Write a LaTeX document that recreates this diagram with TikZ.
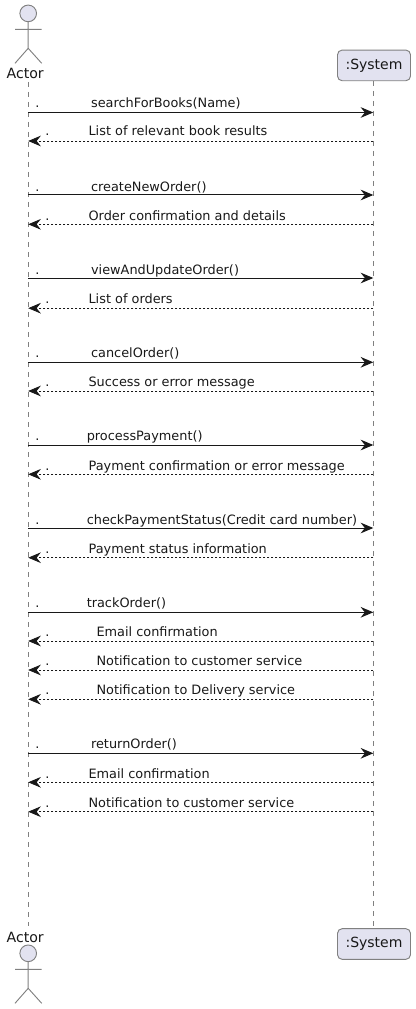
\documentclass[tikz,border=0pt]{standalone}
\usepackage{fontspec}
\setmainfont{DejaVu Sans}
\usetikzlibrary{arrows.meta}
\definecolor{ink}{HTML}{181818}
\definecolor{partfill}{HTML}{E2E2F0}
\definecolor{lifegray}{HTML}{808080}
\tikzset{
  x=0.75pt,y=-0.75pt,
  lifeline/.style={draw=lifegray,line width=0.6pt,dash pattern=on 3.75pt off 3.75pt},
  actorline/.style={draw=lifegray,line width=0.7pt},
  actorhead/.style={circle,draw=lifegray,fill=partfill,line width=0.7pt,minimum size=12.5pt,inner sep=0pt},
  partbox/.style={draw=lifegray,fill=partfill,rounded corners=3.5pt,line width=0.7pt,minimum width=54.75pt,minimum height=23pt,inner sep=0pt,font=\fontsize{10.5pt}{12pt}\selectfont,text=ink},
  actorlabel/.style={anchor=base,inner sep=0pt,font=\fontsize{10.6pt}{12pt}\selectfont,text=ink},
  msglabel/.style={anchor=base west,inner sep=0pt,font=\fontsize{9.65pt}{12pt}\selectfont,text=ink},
  callmsg/.style={draw=ink,line width=0.75pt,-{Stealth[length=9.5pt,width=8pt,inset=3.2pt]}},
  retmsg/.style={draw=ink,line width=0.6pt,dash pattern=on 1.5pt off 1.5pt,-{Stealth[length=9.5pt,width=8pt,inset=3.2pt]}},
}
\begin{document}
\begin{tikzpicture}
\useasboundingbox (0,0) rectangle (415,1009);
% participants
\node[actorhead] (headT) at (28.2,13.4) {};
\node[actorlabel] (actorT) at (25.2,78.4) {Actor};
\node[partbox] (sysT) at (374,65.4) {:System};
\node[actorlabel] (actorB) at (25.2,942.4) {Actor};
\node[actorhead] (headB) at (28.2,953.3) {};
\node[partbox] (sysB) at (374,944) {:System};
% actor figures
\coordinate (hipT) at (28.2,48.3);
\coordinate (hipB) at (28.2,988.3);
\draw[actorline] (headT.south) -- (hipT) -- (15,63.3) (hipT) -- (41.7,63.3) (15,29.3) -- (41.7,29.3);
\draw[actorline] (headB.south) -- (hipB) -- (15,1003.3) (hipB) -- (41.7,1003.3) (15,969.3) -- (41.7,969.3);
% lifelines
\coordinate (lifeAT) at (28.2,82);
\coordinate (lifeAB) at (28.2,926);
\coordinate (lifeST) at (373.3,81);
\coordinate (lifeSB) at (373.3,928);
\draw[lifeline] (lifeAT) -- (lifeAB);
\draw[lifeline] (lifeST) -- (lifeSB);
% calls: id / arrow y / baseline y / label x / text
\foreach \n/\y/\b/\lx/\txt in {
  c1/112.5/107.4/90.8/{searchForBooks(Name)},
  c2/195/191.4/90.8/{createNewOrder()},
  c3/278/274/90.8/{viewAndUpdateOrder()},
  c4/362.3/357.4/90.8/{cancelOrder()},
  c5/445/440.7/86.5/{processPayment()},
  c6/528/524/86.5/{checkPaymentStatus(Credit card number)},
  c7/612.3/607.4/86.5/{trackOrder()},
  c8/753.3/748.4/90.8/{returnOrder()}}{
  \coordinate (a\n) at (28.2,\y);
  \coordinate (s\n) at (373.3,\y);
  \draw[callmsg] (a\n) -- (s\n);
  \node[msglabel] (dot\n) at (35,\b) {.};
  \node[msglabel] (lab\n) at (\lx,\b) {\txt};
}
% returns
\foreach \n/\y/\b/\lx/\txt in {
  r1/141/136/88.3/{List of relevant book results},
  r2/224.3/220/88.3/{Order confirmation and details},
  r3/308.2/303.4/88.3/{List of orders},
  r4/391/386/88.3/{Success or error message},
  r5/474.3/470/88.3/{Payment confirmation or error message},
  r6/557.7/553.4/88.3/{Payment status information},
  r7/641/636/96.3/{Email confirmation},
  r8/670/665.4/96.3/{Notification to customer service},
  r9/699.3/694.7/96.3/{Notification to Delivery service},
  r10/782.3/778/88.3/{Email confirmation},
  r11/811.7/807.4/88.3/{Notification to customer service}}{
  \coordinate (s\n) at (373.3,\y);
  \coordinate (a\n) at (28.2,\y);
  \draw[retmsg] (s\n) -- (a\n);
  \node[msglabel] (dot\n) at (45,\b) {.};
  \node[msglabel] (lab\n) at (\lx,\b) {\txt};
}
\end{tikzpicture}
\end{document}
